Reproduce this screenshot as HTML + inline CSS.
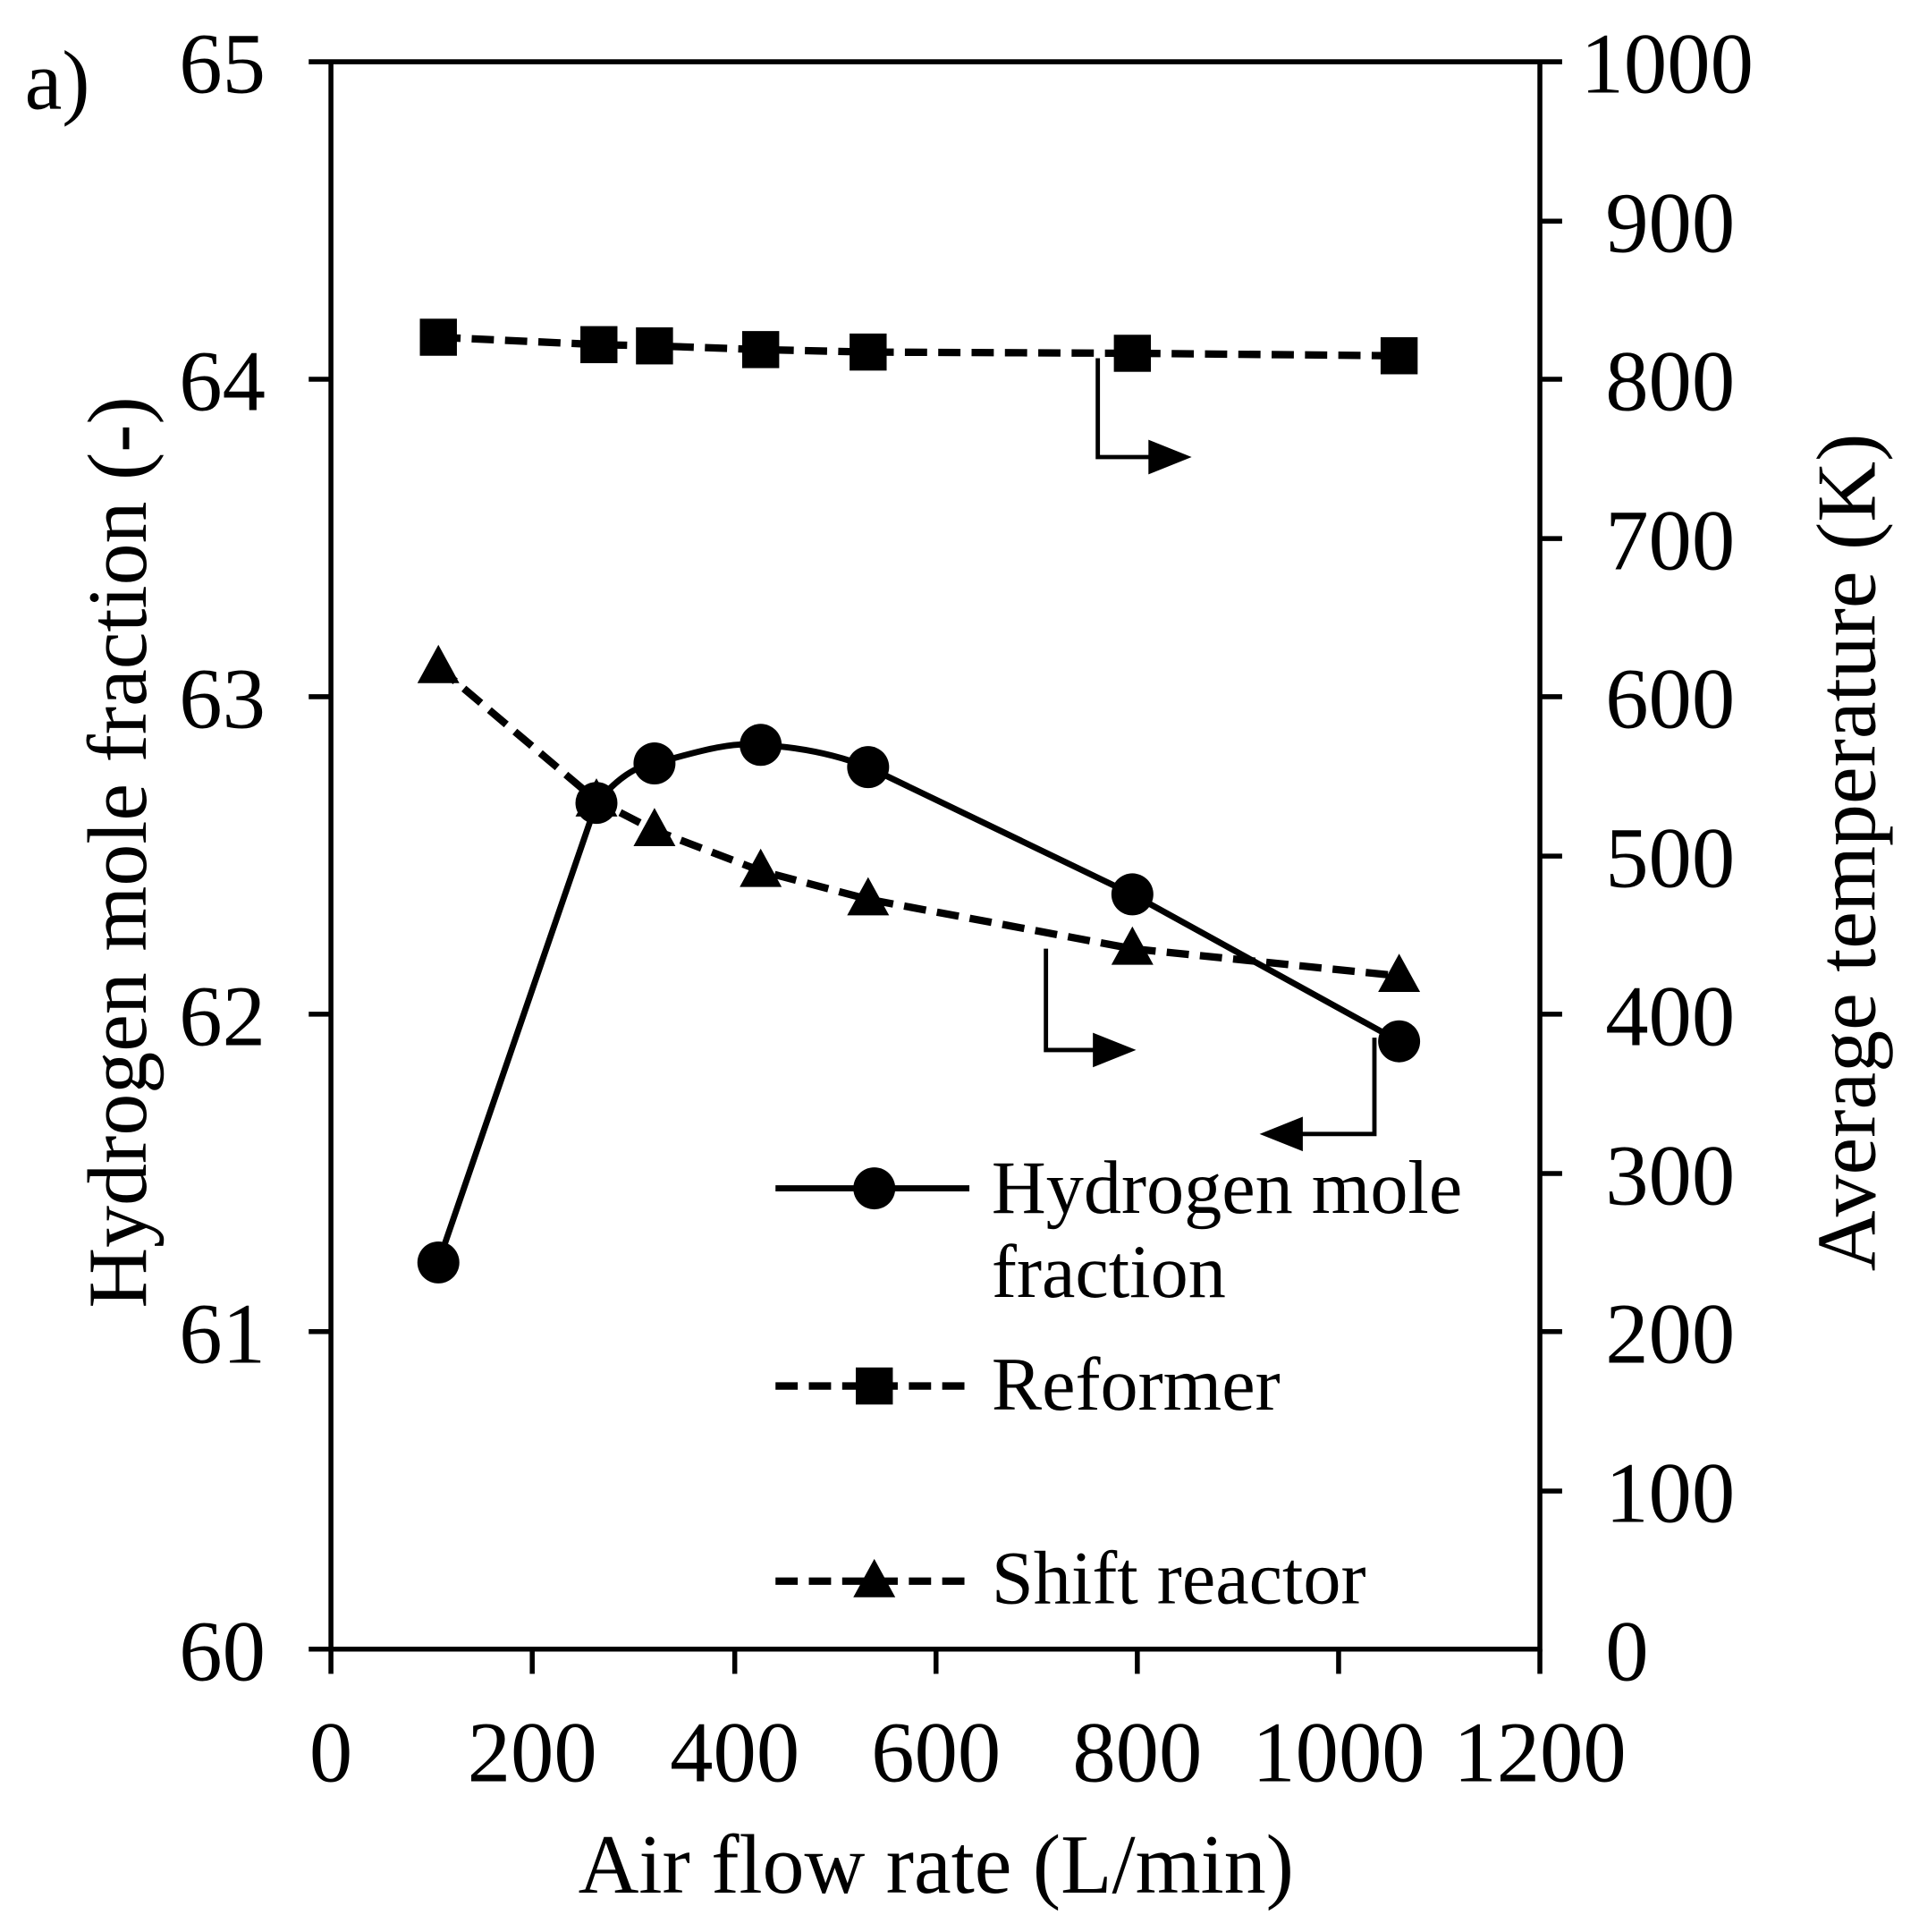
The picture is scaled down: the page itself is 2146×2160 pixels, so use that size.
<!DOCTYPE html>
<html><head><style>html,body{margin:0;padding:0;background:#fff}svg{display:block}</style></head><body>
<svg width="2146" height="2160" viewBox="0 0 1554 1564" preserveAspectRatio="none" xmlns="http://www.w3.org/2000/svg" font-family="Liberation Serif, serif" fill="#000">
<rect width="1554" height="1564" fill="#fff"/>
<g stroke="#000" stroke-width="4" fill="none">
<path d="M268 50 V1335 H1247 V50 M250 50 H1265"/>
<path d="M250 307H268 M250 564H268 M250 821H268 M250 1078H268 M250 1335H268"/>
<path d="M1247 179H1265 M1247 307H1265 M1247 436H1265 M1247 564H1265 M1247 693H1265 M1247 821H1265 M1247 950H1265 M1247 1078H1265 M1247 1207H1265"/>
<path d="M268 1335V1355 M431 1335V1355 M595 1335V1355 M758 1335V1355 M921 1335V1355 M1084 1335V1355 M1247 1335V1355"/>
</g>
<g font-size="70" text-anchor="end">
<text x="215" y="75">65</text><text x="215" y="332">64</text><text x="215" y="589">63</text><text x="215" y="846">62</text><text x="215" y="1103">61</text><text x="215" y="1360">60</text>
</g>
<g font-size="70" text-anchor="start">
<text x="1280" y="75">1000</text><text x="1300" y="204">900</text><text x="1300" y="332">800</text><text x="1300" y="461">700</text><text x="1300" y="589">600</text><text x="1300" y="718">500</text><text x="1300" y="846">400</text><text x="1300" y="975">300</text><text x="1300" y="1103">200</text><text x="1300" y="1232">100</text><text x="1300" y="1360">0</text>
</g>
<g font-size="70" text-anchor="middle">
<text x="268" y="1442">0</text><text x="431" y="1442">200</text><text x="595" y="1442">400</text><text x="758" y="1442">600</text><text x="921" y="1442">800</text><text x="1084" y="1442">1000</text><text x="1247" y="1442">1200</text>
</g>
<text x="758" y="1532" font-size="68" text-anchor="middle">Air flow rate (L/min)</text>
<text transform="translate(118 690) rotate(-90)" font-size="68" text-anchor="middle">Hydrogen mole fraction (-)</text>
<text transform="translate(1518 690) rotate(-90)" font-size="68" text-anchor="middle">Average temperature (K)</text>
<text x="20" y="88" font-size="68">a)</text>
<g fill="none" stroke="#000" stroke-width="5">
<path d="M355 1022 L483 650 C500 630 515 620 530 618 C560 610 590 600 616 603 C650 605 680 612 703 621 L917 724 L1133 843"/>
<path d="M355 273 L485 279 L530 280 L616 283 L703 285 L917 286 L1133 288" stroke-dasharray="18 9" stroke-width="6"/>
<path d="M355 540 L483 648 L530 672 L616 705 L703 728 L917 768 L1133 790" stroke-dasharray="18 9" stroke-width="6"/>
<path d="M628 962 H785"/>
<path d="M628 1122 H785" stroke-dasharray="18 9" stroke-width="6"/>
<path d="M628 1280 H785" stroke-dasharray="18 9" stroke-width="6"/>
</g>
<g fill="none" stroke="#000" stroke-width="3.5">
<path d="M889 290 V370 H935"/><path d="M847 768 V850 H890"/><path d="M1113 840 V918 H1050"/>
</g>
<path d="M930 356 L965 370 L930 384Z"/><path d="M885 836 L920 850 L885 864Z"/><path d="M1055 904 L1020 918 L1055 932Z"/>
<g>
<circle cx="355" cy="1022" r="17"/><circle cx="483" cy="650" r="17"/><circle cx="530" cy="618" r="17"/><circle cx="616" cy="603" r="17"/><circle cx="703" cy="621" r="17"/><circle cx="917" cy="724" r="17"/><circle cx="1133" cy="843" r="17"/>
<circle cx="708" cy="962" r="17"/>
<rect x="340" y="258" width="30" height="30"/><rect x="470" y="264" width="30" height="30"/><rect x="515" y="265" width="30" height="30"/><rect x="601" y="268" width="30" height="30"/><rect x="688" y="270" width="30" height="30"/><rect x="902" y="271" width="30" height="30"/><rect x="1118" y="273" width="30" height="30"/>
<rect x="693" y="1107" width="30" height="30"/>
<path d="M355 522 L372 553 L338 553Z M483 630 L500 661 L466 661Z M530 654 L547 685 L513 685Z M616 687 L633 718 L599 718Z M703 710 L720 741 L686 741Z M917 750 L934 781 L900 781Z M1133 772 L1150 803 L1116 803Z M708 1262 L725 1293 L691 1293Z"/>
</g>
<g font-size="61">
<text x="803" y="982">Hydrogen mole</text><text x="803" y="1050">fraction</text>
<text x="803" y="1141">Reformer</text><text x="803" y="1298">Shift reactor</text>
</g>
</svg>
</body></html>
